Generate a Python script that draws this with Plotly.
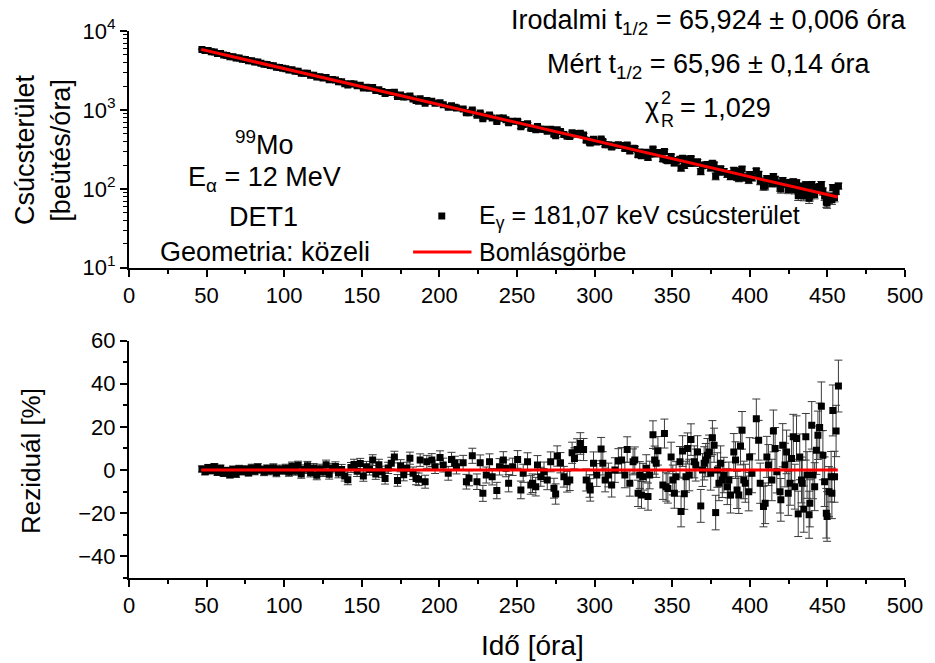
import numpy as np
import plotly.graph_objects as go

# ---------------- data ----------------
time_h = [
    47, 49, 51, 53, 55, 57, 59, 61, 63, 65, 67, 69, 71, 73, 75, 77, 79, 81, 83, 85, 87, 89, 91, 93, 95, 97, 99,
    101, 103, 105, 107, 109, 111, 113, 115, 117, 119, 121, 123, 125, 127, 129, 131, 133, 135, 137, 139, 141, 143, 145, 147, 149,
    151, 153, 155, 157, 159, 161, 163, 165, 167, 169, 171, 173, 175, 177, 179, 181, 183, 185,
    186.6, 187.6, 190.8, 191.9, 195.1, 197.2, 200.4, 202.5, 205.7, 207.8, 210.0, 211.0, 215.3, 217.4, 219.1, 221.2, 224.2,
    226.3, 228.0, 230.2, 232.3, 234.0, 237.0, 238.7, 241.2, 242.9, 244.6, 247.2, 250.4, 252.5, 254.0, 256.8, 258.9,
    260.0, 262.1, 263.2, 265.3, 267.4, 269.5, 271.7, 273.8, 274.9, 275.9, 278.0, 280.2, 282.3, 284.0, 285.5, 287.0, 288.7, 290.8,
    292.9, 294.6, 296.8, 297.2, 299.3, 301.4, 304.2, 305.3, 306.8, 308.9, 311.0, 313.1, 315.3, 317.4, 319.5, 321.0, 322.7, 324.8,
    325.9, 328.0, 329.1, 330.2, 331.2, 333.3, 334.4, 335.5, 337.6, 338.7, 339.7, 340.8, 344.0, 345.0, 346.1, 347.2, 349.3,
    350.4, 351.4, 352.5, 355.0, 355.7, 356.7, 357.8, 358.9, 359.9, 361.0, 362.1, 364.2, 365.2, 366.3, 368.4, 369.5, 370.6,
    371.6, 372.7, 373.8, 374.8, 375.9, 377.0, 378.0, 379.1, 380.1, 381.2, 382.3, 383.3, 385.5, 386.5, 387.6, 389.7, 390.8,
    391.8, 392.9, 394.0, 395.0, 396.1, 397.1, 399.3, 399.9, 401.4, 404.2, 405.7, 406.7, 408.8, 409.9, 411.0, 412.0, 414.2,
    415.2, 416.3, 417.4, 419.5, 420.0, 421.2, 422.7, 423.7, 424.8, 425.9, 426.9, 428.0, 429.0, 430.1, 431.2, 432.2, 433.3,
    433.8, 434.8, 436.1, 436.9, 438.2, 438.7, 439.9, 440.7, 441.8, 442.9, 443.9, 445.0, 446.1, 447.1, 448.2, 449.3, 449.8,
    451.0, 452.4, 452.9, 453.5, 454.6, 455.6, 457.1,
]

residual_pct = [
    0.5, -0.8, 1.2, -0.3, 1.5, -1.0, 0.8, -1.5, -0.2, -2.2, 0.3, -1.8, 0.6, -0.7, 0.4, -1.2, 1.0, -0.5, 1.3, 0.2, -0.9, 0.7, -0.4, 1.1, -1.3, 0.5, -0.2,
    0.8, -1.0, 1.8, -0.5, 2.2, -1.8, 0.4, 2.0, -1.2, 1.0, -2.4, 0.6, -0.9, 2.5, -2.0, 0.9, 1.6, -1.4, 0.3, -2.8, -4.5, 1.2, 2.6, -0.6, 3.0,
    -2.8, 1.5, 0.2, 4.6, -1.8, 2.4, -0.8, -3.9, 1.0, 3.2, 6.0, -4.8, 2.0, -2.2, 0.8, 5.5, -1.5, -3.9,
    -4.3, 4.6, -5.4, 3.8, 4.6, 1.5, 5.8, 2.3, -1.5, 4.9, 3.1, 1.5, 3.4, -5.4, -3.8, 6.6, -5.4,
    3.4, -10.8, -2.3, 3.8, -3.1, -9.5, 1.5, 4.6, 0.8, -6.1, 1.5, 4.9, -9.2, -1.5, 3.8, -6.9,
    -6.1, -7.7, 2.3, -3.1, -0.8, -4.6, 3.8, -8.4, -11.1, 6.5, 3.4, -3.1, -5.4, -4.6, 8.0, 5.4, 9.5, 12.3,
    9.5, -4.6, -7.4, -9.2, 3.1, -2.3, 9.7, 3.1, -4.6, -2.3, -6.9, 0.0, 4.2, 4.6, -2.3, 9.5, -6.1, 3.8,
    4.6, -10.8, -2.3, -11.5, -3.1, 0.8, -12.3, -2.3, 16.4, 4.6, 3.1, 8.9, -6.9, 16.9, -7.7, -8.5, 6.1,
    -4.6, -10.8, -3.1, 3.8, -19.2, 8.8, -11.0, -3.1, 10.0, -2.3, 14.1, 3.8, 2.3, 8.4, -16.6, 0.0, 3.1,
    4.6, 6.9, 8.4, -1.5, 15.0, 11.5, -19.7, 0.0, -6.1, 3.1, -4.6, -2.3, -7.7, -4.6, -11.5, 8.4, 4.6,
    -9.2, -11.5, 11.1, 18.4, -4.6, -6.1, -10.0, 6.1, -1.5, 23.8, 13.8, -6.1, -16.9, -15.4, 6.1, 2.3, -4.6,
    18.1, 10.0, -0.8, -10.0, -13.8, 11.5, 2.3, 8.4, -10.8, -6.1, 5.4, 15.4, -7.7, 14.6, -20.3, 6.1, -4.6,
    -6.1, -18.1, 15.4, -2.3, -20.7, -15.4, 20.7, -2.3, -7.7, 9.2, 16.1, 19.7, 29.5, 6.9, -5.4, -20.0, -21.5,
    -10.0, -3.1, -10.8, 27.6, -3.1, 18.1, 38.9,
]

residual_err_pct = [
    1.4, 1.4, 1.4, 1.4, 1.5, 1.5, 1.5, 1.5, 1.5, 1.5, 1.6, 1.6, 1.6, 1.6, 1.6, 1.6, 1.7, 1.7, 1.7, 1.7, 1.7, 1.7, 1.8, 1.8, 1.8, 1.8, 1.8,
    1.9, 1.9, 1.9, 1.9, 1.9, 2.0, 2.0, 2.0, 2.0, 2.0, 2.1, 2.1, 2.1, 2.1, 2.2, 2.2, 2.2, 2.2, 2.3, 2.3, 2.3, 2.3, 2.4, 2.4, 2.4,
    2.4, 2.5, 2.5, 2.5, 2.5, 2.6, 2.6, 2.6, 2.6, 2.7, 2.7, 2.7, 2.8, 2.8, 2.8, 2.8, 2.9, 2.9,
    2.9, 2.9, 3.0, 3.0, 3.0, 3.1, 3.1, 3.2, 3.2, 3.3, 3.3, 3.3, 3.4, 3.4, 3.5, 3.5, 3.6,
    3.6, 3.7, 3.7, 3.7, 3.8, 3.8, 3.8, 3.9, 3.9, 4.0, 4.0, 4.1, 4.1, 4.2, 4.2, 4.3,
    4.3, 4.3, 4.4, 4.4, 4.5, 4.5, 4.6, 4.6, 4.7, 4.7, 4.7, 4.8, 4.8, 4.9, 4.9, 4.9, 5.0, 5.0,
    5.1, 5.1, 5.2, 5.2, 5.3, 5.3, 5.4, 5.4, 5.5, 5.5, 5.6, 5.7, 5.7, 5.8, 5.9, 5.9, 6.0, 6.0,
    6.1, 6.1, 6.2, 6.2, 6.2, 6.3, 6.3, 6.4, 6.4, 6.5, 6.5, 6.6, 6.7, 6.7, 6.7, 6.8, 6.8,
    6.9, 6.9, 7.0, 7.1, 7.1, 7.1, 7.2, 7.2, 7.2, 7.3, 7.3, 7.4, 7.4, 7.5, 7.6, 7.6, 7.7,
    7.7, 7.7, 7.8, 7.8, 7.9, 7.9, 8.0, 8.0, 8.1, 8.1, 8.1, 8.2, 8.3, 8.3, 8.4, 8.5, 8.5,
    8.6, 8.6, 8.7, 8.7, 8.7, 8.8, 8.9, 8.9, 9.0, 9.1, 9.2, 9.3, 9.4, 9.4, 9.5, 9.5, 9.6,
    9.7, 9.7, 9.8, 9.9, 9.9, 10.0, 10.1, 10.1, 10.2, 10.2, 10.3, 10.4, 10.4, 10.5, 10.5, 10.6, 10.6,
    10.7, 10.7, 10.8, 10.8, 10.9, 10.9, 11.0, 11.0, 11.1, 11.2, 11.2, 11.3, 11.3, 11.4, 11.5, 11.5, 11.5,
    11.6, 11.7, 11.7, 11.8, 11.8, 11.9, 12.0,
]

# decay-curve fit parameters (from the chart annotation / curve ends)
half_life_h = 65.96
fit_ref_time = 46.5
fit_ref_counts = 5850.0
fit_time_range = [46.5, 456.7]

x_ticks = [0, 50, 100, 150, 200, 250, 300, 350, 400, 450, 500]
y_log_ticks = [10, 100, 1000, 10000]
y_log_labels = ["10<sup>1</sup>", "10<sup>2</sup>", "10<sup>3</sup>", "10<sup>4</sup>"]
res_ticks = [-40, -20, 0, 20, 40, 60]

# ---------------- derived series ----------------
t = np.array(time_h, dtype=float)
res = np.array(residual_pct)
res_err = np.array(residual_err_pct)


def decay(tt):
    return fit_ref_counts * 0.5 ** ((np.asarray(tt, dtype=float) - fit_ref_time) / half_life_h)


fit_at_t = decay(t)
counts = fit_at_t * (1 + res / 100.0)
counts_err = fit_at_t * res_err / 100.0
fit_curve = decay(fit_time_range)

# ---------------- figure ----------------
W, H = 935, 663
ML, MR, MT, MB = 129, 22, 31, 85
PW, PH = W - ML - MR, H - MT - MB


def px(x, y):
    return (x - ML) / PW, (H - MB - y) / PH


FONT = "Liberation Sans, Arial, sans-serif"
ERRC = "#3a3a3a"

fig = go.Figure()

fig.add_trace(go.Scatter(
    x=t, y=counts, mode="markers", xaxis="x", yaxis="y",
    marker=dict(symbol="square", size=7, color="black"),
    error_y=dict(type="data", array=counts_err, color=ERRC, thickness=1, width=4),
    showlegend=False,
))
fig.add_trace(go.Scatter(
    x=fit_time_range, y=fit_curve, mode="lines", xaxis="x", yaxis="y",
    line=dict(color="#ff0000", width=3), showlegend=False,
))
fig.add_trace(go.Scatter(
    x=t, y=res, mode="markers", xaxis="x2", yaxis="y2",
    marker=dict(symbol="square", size=7, color="black"),
    error_y=dict(type="data", array=res_err, color=ERRC, thickness=1, width=4),
    showlegend=False,
))
fig.add_trace(go.Scatter(
    x=fit_time_range, y=[0, 0], mode="lines", xaxis="x2", yaxis="y2",
    line=dict(color="#ff0000", width=3), showlegend=False,
))

axis_common = dict(
    showline=True, linecolor="black", linewidth=2, mirror=False,
    ticks="outside", ticklen=7, tickwidth=1.5, tickcolor="black",
    showgrid=False, zeroline=False,
    tickfont=dict(family=FONT, size=22, color="black"),
)

top_bottom = (H - MB - 267.7) / PH
bot_top = (H - MB - 340.5) / PH

fig.update_layout(
    width=W, height=H,
    margin=dict(l=ML, r=MR, t=MT, b=MB),
    paper_bgcolor="white", plot_bgcolor="white",
    font=dict(family=FONT, color="black"),
    xaxis=dict(axis_common, domain=[0, 1], anchor="y", range=[0, 500],
               tickvals=x_ticks, minor=dict(dtick=25, ticks="outside", ticklen=4, tickwidth=1.5, tickcolor="black")),
    yaxis=dict(axis_common, domain=[top_bottom, 1], anchor="x", type="log", range=[1, 4],
               tickvals=y_log_ticks, ticktext=y_log_labels,
               minor=dict(dtick="D1", ticks="outside", ticklen=4, tickwidth=1, tickcolor="black")),
    xaxis2=dict(axis_common, domain=[0, 1], anchor="y2", range=[0, 500],
                tickvals=x_ticks, minor=dict(dtick=25, ticks="outside", ticklen=4, tickwidth=1.5, tickcolor="black")),
    yaxis2=dict(axis_common, domain=[0, bot_top], anchor="x2", range=[-50, 60],
                tickvals=res_ticks, minor=dict(dtick=10, ticks="outside", ticklen=4, tickwidth=1.5, tickcolor="black")),
)

ann = []


def add_text(x, y, text, size=27, xanchor="center", yanchor="middle", angle=0):
    xp, yp = px(x, y)
    ann.append(dict(x=xp, y=yp, xref="paper", yref="paper", text=text, showarrow=False,
                    xanchor=xanchor, yanchor=yanchor, textangle=angle,
                    font=dict(family=FONT, size=size, color="black")))


# axis titles
add_text(24, 150, "Csúcsterület", size=27, angle=-90)
add_text(60, 150, "[beütés/óra]", size=27, angle=-90)
add_text(30, 461, "Reziduál [%]", size=26, angle=-90)
add_text(537, 645, "Idő [óra]", size=28)

# right info block
add_text(715, 22, "Irodalmi t<sub>1/2</sub> = 65,924 ± 0,006 óra", size=27)
add_text(714, 66, "Mért t<sub>1/2</sub> = 65,96 ± 0,14 óra", size=27)
add_text(666, 108, "χ", size=27, xanchor="right")
add_text(672, 98, "2", size=18)
add_text(673, 121, "R", size=18)
add_text(684, 108, "= 1,029", size=27, xanchor="left")

# left info block
add_text(266, 143, "<sup>99</sup>Mo", size=27)
add_text(266, 179, "E<sub>α</sub> = 12 MeV", size=27)
add_text(265, 217, "DET1", size=27)
add_text(266, 252, "Geometria: közeli", size=27)

# legend texts
add_text(481, 217, "E<sub>γ</sub> = 181,07 keV csúcsterület", size=25, xanchor="left")
add_text(481, 252, "Bomlásgörbe", size=25, xanchor="left")

fig.update_layout(annotations=ann)

# legend symbols
x0, y0 = px(441.5, 219.5)
x1, y1 = px(448.5, 212.5)
lx0, ly = px(416, 252)
lx1, _ = px(475, 252)
fig.update_layout(shapes=[
    dict(type="rect", xref="paper", yref="paper", x0=x0, y0=y0, x1=x1, y1=y1,
         fillcolor="black", line=dict(width=0)),
    dict(type="line", xref="paper", yref="paper", x0=lx0, y0=ly, x1=lx1, y1=ly,
         line=dict(color="#ff0000", width=3)),
])

fig.write_html("out.html")
